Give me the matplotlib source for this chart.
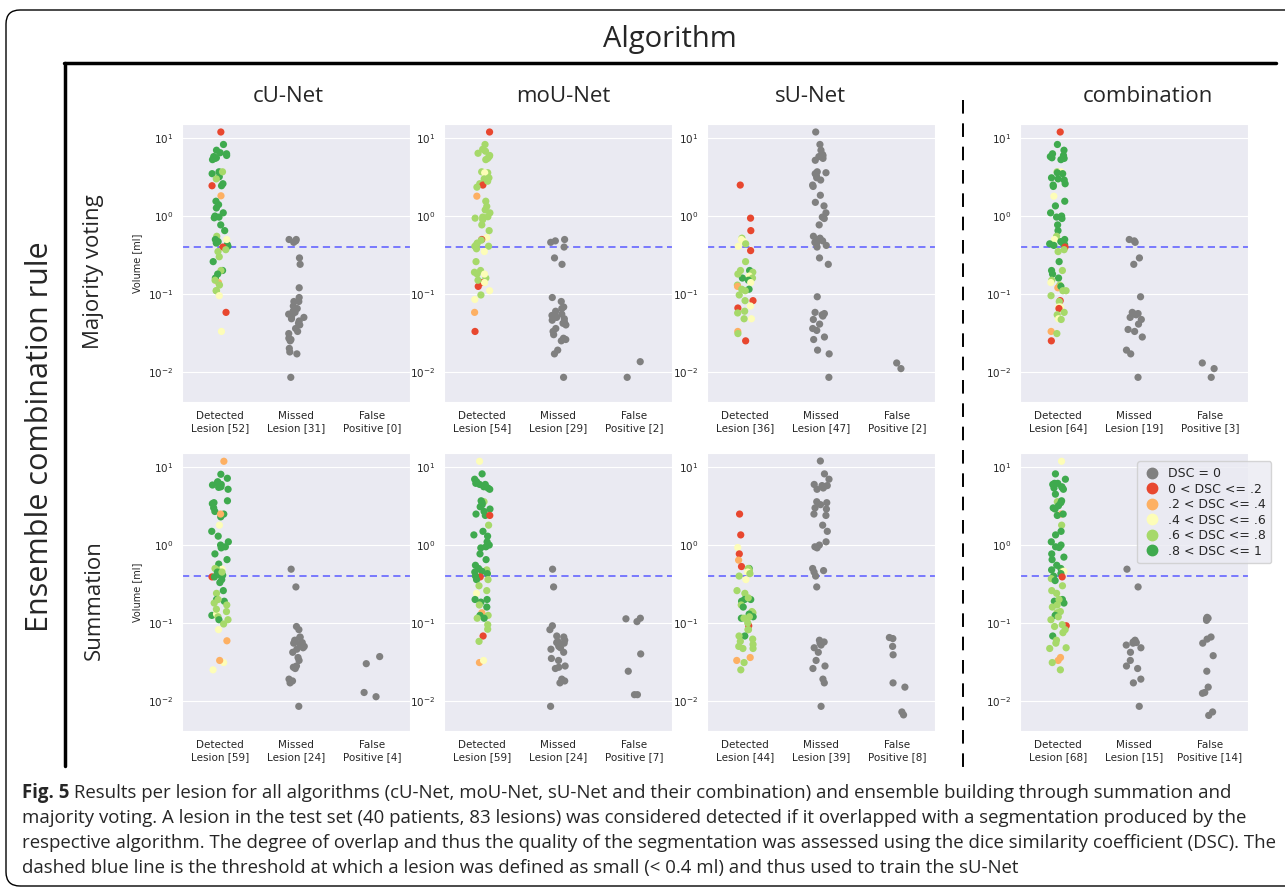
import numpy as np
import pandas as pd
import matplotlib
matplotlib.use('Agg')
import matplotlib.pyplot as plt
import seaborn as sns
from matplotlib.lines import Line2D
from matplotlib.patches import FancyBboxPatch
from matplotlib.transforms import IdentityTransform
from matplotlib import font_manager

# DSC classes: 0 gray, 1 red, 2 orange, 3 yellow, 4 light green, 5 green
dsc_labels = ['DSC = 0', '0 < DSC <= .2', '.2 < DSC <= .4', '.4 < DSC <= .6',
              '.6 < DSC <= .8', '.8 < DSC <= 1']
dsc_colors = ['#808080', '#e8472f', '#fdb063', '#fdfdb8', '#a6d96a', '#3faa4e']

algorithms = ['cU-Net', 'moU-Net', 'sU-Net', 'combination']
rules = ['Majority voting', 'Summation']

# ---- Majority voting ----
mv_cu_det_vol = [12, 8.3, 7.0, 6.5, 6.3, 6.0, 5.8, 5.5, 5.3, 3.7, 3.5, 3.2, 3.7, 3.0, 2.6, 2.45, 2.45,
                 1.82, 1.55, 1.4, 1.27, 1.1, 0.97, 0.95, 0.77, 0.65, 0.55, 0.5, 0.47, 0.43, 0.41, 0.4,
                 0.5, 0.37, 0.35, 0.26, 0.2, 0.2, 0.18, 0.16, 0.14, 0.13, 0.11, 0.11, 0.095, 0.058,
                 0.033, 5.6, 0.45, 0.3, 0.15, 1.0]
mv_cu_det_dsc = [1, 5, 5, 5, 5, 5, 5, 5, 5, 5, 5, 5, 4, 4, 5, 5, 1, 2, 5, 5, 5, 5, 5, 5, 5, 5, 4, 5, 5,
                 5, 5, 1, 3, 4, 4, 5, 5, 4, 5, 5, 2, 4, 4, 4, 3, 1, 3, 5, 5, 4, 4, 5]
mv_cu_missed = [0.5, 0.5, 0.48, 0.46, 0.29, 0.24, 0.12, 0.09, 0.08, 0.08, 0.07, 0.065, 0.06, 0.058,
                0.055, 0.052, 0.05, 0.048, 0.045, 0.042, 0.04, 0.036, 0.033, 0.031, 0.027, 0.026,
                0.025, 0.02, 0.018, 0.017, 0.0085]
mv_cu_fp = []

mv_mo_det_vol = [12, 8.3, 7.2, 6.8, 6.4, 5.8, 5.5, 5.3, 3.7, 3.6, 3.5, 3.6, 3.1, 3.0, 2.6, 2.5, 2.35,
                 1.8, 1.55, 1.33, 1.1, 0.98, 0.97, 0.94, 0.77, 0.65, 0.53, 0.5, 0.49, 0.45, 0.43, 0.41,
                 0.41, 0.35, 0.26, 0.2, 0.19, 0.18, 0.16, 0.18, 0.14, 0.125, 0.14, 0.11, 0.097, 0.085,
                 0.058, 0.033, 6.0, 0.9, 2.8, 0.38, 0.15, 1.2]
mv_mo_det_dsc = [1, 4, 4, 4, 4, 4, 4, 4, 4, 4, 4, 3, 4, 4, 4, 1, 4, 2, 4, 4, 4, 4, 4, 4, 4, 4, 3, 1, 4,
                 4, 4, 4, 4, 3, 4, 4, 4, 4, 4, 3, 1, 1, 3, 3, 4, 3, 2, 1, 4, 4, 4, 4, 4, 4]
mv_mo_missed = [0.5, 0.48, 0.46, 0.4, 0.29, 0.24, 0.09, 0.08, 0.068, 0.065, 0.06, 0.055, 0.053, 0.052,
                0.05, 0.048, 0.046, 0.044, 0.042, 0.04, 0.036, 0.033, 0.03, 0.027, 0.026, 0.025,
                0.019, 0.017, 0.0085]
mv_mo_fp = [0.0135, 0.0085]

mv_su_det_vol = [2.5, 0.94, 0.65, 0.52, 0.5, 0.47, 0.44, 0.41, 0.36, 0.26, 0.2, 0.2, 0.19, 0.17, 0.16,
                 0.16, 0.15, 0.14, 0.13, 0.125, 0.115, 0.115, 0.11, 0.097, 0.082, 0.082, 0.07, 0.066,
                 0.06, 0.057, 0.048, 0.048, 0.033, 0.031, 0.025, 0.18]
mv_su_det_dsc = [1, 1, 1, 4, 3, 3, 4, 3, 1, 4, 5, 4, 4, 3, 5, 4, 5, 3, 4, 2, 5, 4, 4, 4, 1, 4, 3, 1, 4,
                 4, 3, 4, 2, 4, 1, 4]
mv_su_missed = [12, 8.3, 7.0, 6.2, 6.0, 5.8, 5.5, 5.2, 3.7, 3.6, 3.5, 3.3, 3.1, 2.9, 2.5, 2.4, 1.85,
                1.5, 1.35, 1.1, 0.97, 0.93, 0.77, 0.55, 0.52, 0.5, 0.48, 0.46, 0.44, 0.42, 0.4, 0.29,
                0.24, 0.092, 0.058, 0.056, 0.054, 0.052, 0.047, 0.041, 0.036, 0.034, 0.028, 0.026,
                0.019, 0.017, 0.0085]
mv_su_fp = [0.013, 0.011]

mv_co_det_vol = [12, 8.3, 7.0, 6.3, 6.0, 5.8, 5.5, 5.3, 3.7, 3.7, 3.6, 3.5, 3.1, 3.0, 2.9, 2.6, 2.4,
                 1.8, 1.55, 1.35, 1.1, 1.0, 0.97, 0.93, 0.77, 0.65, 0.55, 0.5, 0.5, 0.47, 0.45, 0.43,
                 0.42, 0.4, 0.37, 0.35, 0.26, 0.2, 0.2, 0.18, 0.16, 0.15, 0.14, 0.13, 0.12, 0.125,
                 0.11, 0.11, 0.095, 0.082, 0.08, 0.068, 0.068, 0.065, 0.058, 0.054, 0.048, 0.047,
                 0.033, 0.031, 0.025, 5.6, 0.44, 2.5]
mv_co_det_dsc = [1, 5, 5, 5, 5, 5, 5, 5, 4, 3, 5, 5, 5, 5, 5, 5, 5, 3, 5, 5, 5, 5, 5, 5, 5, 5, 4, 3, 5,
                 5, 5, 5, 5, 1, 4, 4, 5, 5, 4, 5, 5, 4, 3, 4, 2, 5, 4, 4, 4, 1, 4, 3, 3, 1, 4, 4, 3, 4,
                 2, 4, 1, 5, 5, 5]
mv_co_missed = [0.5, 0.48, 0.46, 0.29, 0.24, 0.092, 0.058, 0.056, 0.055, 0.054, 0.05, 0.047, 0.041,
                0.035, 0.033, 0.028, 0.019, 0.017, 0.0085]
mv_co_fp = [0.013, 0.011, 0.0085]

# ---- Summation ----
sum_cu_det_vol = [11.9, 8.1, 7.2, 6.3, 6.0, 5.9, 5.6, 5.5, 5.2, 3.7, 3.5, 3.4, 3.0, 2.7, 2.5, 2.3, 2.5,
                  1.8, 1.5, 1.3, 1.1, 0.95, 0.92, 0.77, 0.65, 0.57, 0.49, 0.5, 0.48, 0.45, 0.42, 0.39,
                  0.41, 0.39, 0.36, 0.45, 0.26, 0.24, 0.2, 0.19, 0.2, 0.18, 0.17, 0.125, 0.14, 0.13,
                  0.12, 0.11, 0.11, 0.097, 0.082, 0.059, 0.031, 0.033, 0.025, 6.5, 0.33, 0.15, 1.0]
sum_cu_det_dsc = [2, 5, 5, 5, 5, 5, 5, 5, 5, 5, 5, 5, 5, 5, 5, 5, 2, 3, 5, 5, 5, 5, 5, 5, 5, 5, 3, 4, 4,
                  5, 5, 1, 5, 5, 5, 4, 5, 4, 5, 5, 4, 4, 4, 5, 4, 3, 4, 4, 5, 4, 3, 2, 3, 2, 3, 5, 5,
                  4, 5]
sum_cu_missed = [0.49, 0.29, 0.09, 0.082, 0.066, 0.065, 0.06, 0.058, 0.056, 0.055, 0.053, 0.05, 0.048,
                 0.046, 0.042, 0.036, 0.033, 0.028, 0.027, 0.026, 0.019, 0.018, 0.017, 0.0085]
sum_cu_fp = [0.037, 0.03, 0.0128, 0.0113]

sum_mo_det_vol = [11.9, 8.2, 7.0, 6.5, 6.0, 5.6, 5.4, 5.2, 6.0, 3.6, 3.7, 3.5, 3.1, 2.9, 2.7, 2.5, 2.4,
                  2.4, 1.8, 1.5, 1.35, 1.1, 1.0, 0.95, 0.92, 0.77, 0.65, 0.55, 0.48, 0.46, 0.45, 0.43,
                  0.39, 0.4, 0.36, 0.36, 0.24, 0.26, 0.2, 0.2, 0.185, 0.16, 0.135, 0.125, 0.125, 0.115,
                  0.115, 0.095, 0.083, 0.068, 0.058, 0.031, 0.033, 6.2, 3.3, 0.5, 0.17, 0.3, 1.3]
sum_mo_det_dsc = [3, 5, 5, 5, 5, 5, 5, 5, 5, 4, 5, 5, 5, 5, 5, 5, 5, 1, 4, 5, 5, 5, 5, 5, 5, 5, 5, 5, 4,
                  5, 5, 5, 1, 5, 5, 4, 3, 4, 5, 5, 5, 5, 2, 4, 5, 5, 4, 4, 4, 1, 4, 2, 3, 5, 5, 5, 4,
                  4, 5]
sum_mo_missed = [0.49, 0.29, 0.092, 0.082, 0.068, 0.066, 0.06, 0.058, 0.056, 0.055, 0.053, 0.05, 0.048,
                 0.046, 0.042, 0.035, 0.033, 0.028, 0.027, 0.026, 0.019, 0.018, 0.017, 0.0085]
sum_mo_fp = [0.115, 0.113, 0.104, 0.04, 0.024, 0.012, 0.012]

sum_su_det_vol = [2.5, 1.35, 0.93, 0.77, 0.64, 0.53, 0.5, 0.5, 0.47, 0.45, 0.43, 0.4, 0.36, 0.26, 0.24,
                  0.2, 0.2, 0.19, 0.17, 0.16, 0.14, 0.135, 0.13, 0.12, 0.12, 0.115, 0.115, 0.092,
                  0.082, 0.082, 0.068, 0.068, 0.062, 0.058, 0.053, 0.05, 0.047, 0.047, 0.036, 0.033,
                  0.031, 0.025, 0.21, 0.1]
sum_su_det_dsc = [1, 1, 3, 1, 2, 1, 5, 4, 4, 3, 4, 4, 3, 4, 4, 5, 5, 5, 4, 5, 4, 4, 5, 5, 4, 5, 4, 1, 4,
                  4, 5, 4, 4, 4, 4, 4, 4, 4, 2, 2, 4, 4, 4, 4]
sum_su_missed = [12, 8.2, 7.0, 6.0, 5.8, 5.6, 5.4, 5.2, 5.8, 3.6, 3.5, 3.3, 3.0, 2.9, 2.5, 2.4, 1.8,
                 1.5, 1.1, 1.0, 0.95, 0.92, 0.5, 0.47, 0.45, 0.4, 0.29, 0.06, 0.057, 0.055, 0.052,
                 0.048, 0.042, 0.033, 0.028, 0.026, 0.019, 0.017, 0.0085]
sum_su_fp = [0.065, 0.063, 0.05, 0.039, 0.017, 0.015, 0.0072, 0.0066]

sum_co_det_vol = [11.9, 8.2, 7.0, 6.2, 6.0, 5.6, 5.4, 5.2, 5.5, 6.2, 3.6, 3.7, 3.5, 3.2, 3.0, 2.9, 2.5,
                  2.4, 1.8, 1.5, 1.35, 1.1, 1.0, 0.95, 0.93, 0.77, 0.65, 0.55, 0.5, 0.48, 0.46, 0.46,
                  0.43, 0.39, 0.4, 0.37, 0.35, 0.26, 0.24, 0.2, 0.19, 0.18, 0.17, 0.16, 0.14, 0.135,
                  0.125, 0.12, 0.092, 0.095, 0.09, 0.082, 0.068, 0.06, 0.055, 0.048, 0.047, 0.036,
                  0.033, 0.031, 0.025, 2.5, 0.3, 0.11, 0.075, 4.5, 0.7, 0.2]
sum_co_det_dsc = [3, 5, 5, 5, 5, 5, 5, 5, 5, 5, 4, 5, 5, 5, 5, 5, 2, 5, 4, 5, 5, 5, 5, 5, 5, 5, 5, 5, 5,
                  5, 4, 3, 5, 1, 5, 4, 5, 4, 4, 5, 5, 5, 4, 4, 4, 4, 5, 4, 1, 4, 4, 4, 5, 4, 4, 4, 4,
                  2, 2, 4, 4, 5, 4, 4, 4, 5, 5, 4]
sum_co_missed = [0.49, 0.29, 0.06, 0.057, 0.056, 0.055, 0.052, 0.048, 0.042, 0.033, 0.028, 0.026,
                 0.019, 0.017, 0.0085]
sum_co_fp = [0.118, 0.115, 0.113, 0.108, 0.066, 0.062, 0.055, 0.038, 0.024, 0.015, 0.0128, 0.0125,
             0.0072, 0.0065]

threshold = 0.4

caption_bold = 'Fig. 5'
caption_lines = [
    ' Results per lesion for all algorithms (cU-Net, moU-Net, sU-Net and their combination) and ensemble building through summation and',
    'majority voting. A lesion in the test set (40 patients, 83 lesions) was considered detected if it overlapped with a segmentation produced by the',
    'respective algorithm. The degree of overlap and thus the quality of the segmentation was assessed using the dice similarity coefficient (DSC). The',
    'dashed blue line is the threshold at which a lesion was defined as small (< 0.4 ml) and thus used to train the sU-Net',
]

panels = [
    [(mv_cu_det_vol, mv_cu_det_dsc, mv_cu_missed, mv_cu_fp),
     (mv_mo_det_vol, mv_mo_det_dsc, mv_mo_missed, mv_mo_fp),
     (mv_su_det_vol, mv_su_det_dsc, mv_su_missed, mv_su_fp),
     (mv_co_det_vol, mv_co_det_dsc, mv_co_missed, mv_co_fp)],
    [(sum_cu_det_vol, sum_cu_det_dsc, sum_cu_missed, sum_cu_fp),
     (sum_mo_det_vol, sum_mo_det_dsc, sum_mo_missed, sum_mo_fp),
     (sum_su_det_vol, sum_su_det_dsc, sum_su_missed, sum_su_fp),
     (sum_co_det_vol, sum_co_det_dsc, sum_co_missed, sum_co_fp)],
]

sns.set_style('darkgrid')
installed = {f.name for f in font_manager.fontManager.ttflist}
narrow = [f for f in ['Liberation Sans Narrow', 'Open Sans', 'DejaVu Sans'] if f in installed]
plt.rcParams['font.family'] = ['DejaVu Sans']

W, H = 1285, 892
fig = plt.figure(figsize=(W / 100, H / 100), dpi=100)
fig.patch.set_facecolor('white')


def rect(left, top, right, bottom):
    return [left / W, 1 - bottom / H, (right - left) / W, (bottom - top) / H]


def pt(x, y):
    return x / W, 1 - y / H


col_left = [182, 444, 707, 1020]
row_top = [124, 453]
ax_w, ax_h = 228, 278
palette = dict(zip(dsc_labels, dsc_colors))

np.random.seed(3)
for i, row in enumerate(panels):
    for j, (dv, dc, mv, fv) in enumerate(row):
        ax = fig.add_axes(rect(col_left[j], row_top[i], col_left[j] + ax_w, row_top[i] + ax_h))
        ax.set_yscale('log')
        cats = ['Detected\nLesion [%d]' % len(dv), 'Missed\nLesion [%d]' % len(mv),
                'False\nPositive [%d]' % len(fv)]
        df = pd.DataFrame({
            'cat': [cats[0]] * len(dv) + [cats[1]] * len(mv) + [cats[2]] * len(fv),
            'vol': list(dv) + list(mv) + list(fv),
            'dsc': [dsc_labels[c] for c in dc] + [dsc_labels[0]] * (len(mv) + len(fv)),
        })
        sns.stripplot(data=df, x='cat', y='vol', hue='dsc', order=cats, hue_order=dsc_labels,
                      palette=palette, jitter=0.11, size=5.2, linewidth=0, legend=False, ax=ax)
        ax.axhline(threshold, color='#7070ff', ls='--', lw=1.3, dashes=(4, 2.5), zorder=0.5)
        ax.set_ylim(4.1e-3, 15.2)
        ax.set_xlim(-0.5, 2.5)
        ax.set_xlabel('')
        ax.set_ylabel('Volume [ml]' if j == 0 else '', fontsize=7, color='.15')
        ax.tick_params(axis='both', labelsize=7.5, colors='.15', pad=3)
        if i == 1 and j == 3:
            handles = [Line2D([], [], marker='o', ls='', color=c, markersize=7.5) for c in dsc_colors]
            ax.legend(handles, dsc_labels, loc='upper left', bbox_to_anchor=(0.487, 0.992),
                      fontsize=9, handletextpad=0.6, borderpad=0.45, labelspacing=0.2,
                      handlelength=1.4, labelcolor='.15')

# frame and headings
ident = IdentityTransform()
fig.add_artist(FancyBboxPatch((6, H - 886), 1450, 876, boxstyle='round,pad=0,rounding_size=14',
                              transform=ident, fill=False, ec='black', lw=1.0))
fig.add_artist(Line2D([64, 1276], [H - 63, H - 63], transform=ident, color='black', lw=2.5))
fig.add_artist(Line2D([65, 65], [H - 63, H - 766], transform=ident, color='black', lw=2.5))
fig.add_artist(Line2D([963, 963], [H - 100, H - 770], transform=ident, color='black', lw=1.4,
                      ls='--', dashes=(7, 5)))

fig.text(*pt(670, 40), 'Algorithm', ha='center', va='center', fontsize=21, family=narrow)
for x, name in zip([288, 563, 810, 1148], algorithms):
    fig.text(*pt(x, 97), name, ha='center', va='center', fontsize=16, family=narrow)
fig.text(*pt(40, 437), 'Ensemble combination rule', ha='center', va='center', rotation=90,
         fontsize=22, family=narrow)
fig.text(*pt(94, 272), rules[0], ha='center', va='center', rotation=90, fontsize=16, family=narrow)
fig.text(*pt(94, 600), rules[1], ha='center', va='center', rotation=90, fontsize=16, family=narrow)

# caption, sized so the longest line fits the frame
renderer = fig.canvas.get_renderer()
probe = fig.text(0, 0, caption_lines[2], fontsize=10, family=narrow)
w10 = probe.get_window_extent(renderer).width
probe.remove()
cap_fs = 10 * 1253 / w10
cap_y = [793, 818, 843, 868]
bold = fig.text(*pt(22, cap_y[0]), caption_bold, fontsize=cap_fs, family=narrow, weight='bold',
                va='center')
bx = bold.get_window_extent(renderer).x1
fig.text(*pt(bx, cap_y[0]), caption_lines[0], fontsize=cap_fs, family=narrow, va='center')
for k in range(1, 4):
    fig.text(*pt(22, cap_y[k]), caption_lines[k], fontsize=cap_fs, family=narrow, va='center')

fig.savefig('out.png', dpi=100)
